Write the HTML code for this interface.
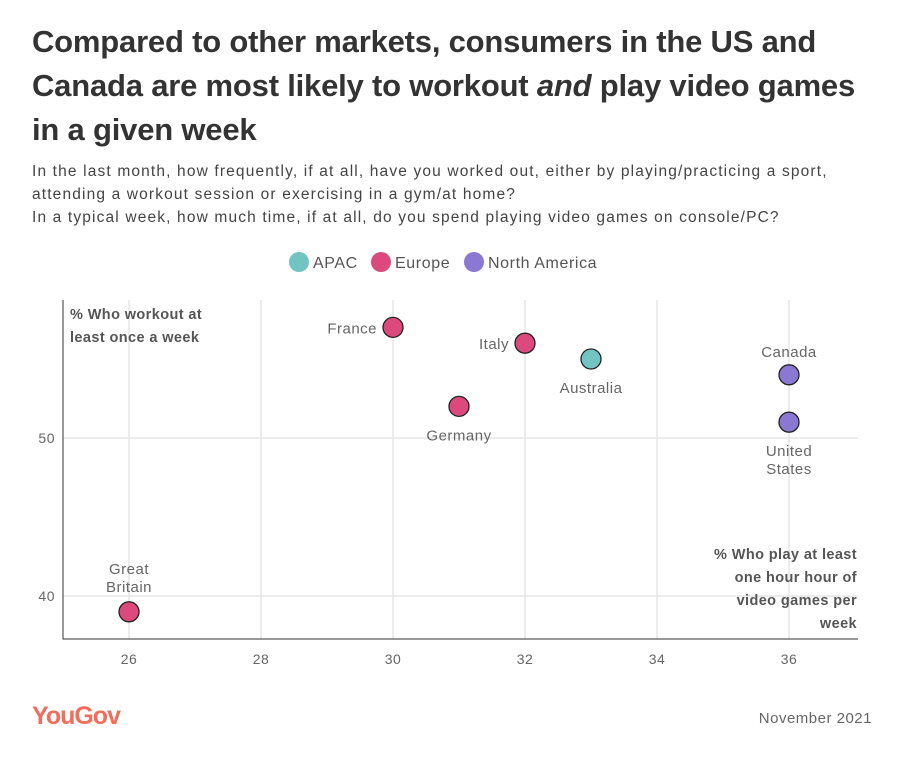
<!DOCTYPE html>
<html><head><meta charset="utf-8"><style>
body{margin:0;background:#fff;width:906px;height:764px;overflow:hidden;font-family:"Liberation Sans",sans-serif;}
#t{position:absolute;left:32px;top:20px;width:850px;font-size:31px;font-weight:bold;color:#333;line-height:44px;letter-spacing:-0.2px}
#s{position:absolute;left:32px;top:160px;width:870px;font-size:15.5px;color:#444;line-height:23px;letter-spacing:1.15px;white-space:nowrap}
</style></head><body>
<div id="t">Compared to other markets, consumers in the US and Canada are most likely to workout <i>and</i> play video games in a given week</div>
<div id="s">In the last month, how frequently, if at all, have you worked out, either by playing/practicing a sport,<br>attending a workout session or exercising in a gym/at home?<br>In a typical week, how much time, if at all, do you spend playing video games on console/PC?</div>
<svg id="c" width="906" height="764" style="position:absolute;left:0;top:0"></svg>
<script>
const names=["France","Italy","Australia","Germany","Canada","United States","Great Britain"];
const xVals=[30,32,33,31,36,36,26];
const yVals=[57,56,55,52,54,51,39];
const regions=["Europe","Europe","APAC","Europe","North America","North America","Europe"];
const xTicks=[26,28,30,32,34,36];
const yTicks=[40,50];
const legendNames=["APAC","Europe","North America"];
const colors={"APAC":"#72c4c2","Europe":"#dc4a7d","North America":"#8a78d3"};
const svg=document.getElementById('c');const NS='http://www.w3.org/2000/svg';
const X=v=>63+(v-25)*66, Y=v=>438-(v-50)*15.8;
function mk(tag,a,txt){const e=document.createElementNS(NS,tag);for(const k in a)e.setAttribute(k,a[k]);if(txt!==undefined)e.textContent=txt;svg.appendChild(e);return e;}
xTicks.forEach(t=>{let l=mk('line',{x1:X(t),x2:X(t),y1:300,y2:639,stroke:'#e6e6e6','stroke-width':1.5});

let e=mk('text',{x:X(t),y:664,'text-anchor':'middle','font-size':14,fill:'#666','letter-spacing':0.5},t);
});
yTicks.forEach(t=>{let l=mk('line',{x1:63,x2:858,y1:Y(t),y2:Y(t),stroke:'#e6e6e6','stroke-width':1.5});

let e=mk('text',{x:55,y:Y(t)+5,'text-anchor':'end','font-size':14,fill:'#666','letter-spacing':0.5},t);
});
let ax=mk('path',{d:'M63 300V639H858',fill:'none',stroke:'#333','stroke-width':1});

let yt=mk('text',{x:70,y:319,'font-size':14.5,'font-weight':'bold',fill:'#555','letter-spacing':0.4});

yt.innerHTML='<tspan x="70">% Who workout at</tspan><tspan x="70" dy="23">least once a week</tspan>';
let xt=mk('text',{x:857,y:559,'font-size':14.5,'font-weight':'bold',fill:'#555','text-anchor':'end','letter-spacing':0.4});

xt.innerHTML='<tspan x="857">% Who play at least</tspan><tspan x="857" dy="23">one hour hour of</tspan><tspan x="857" dy="23">video games per</tspan><tspan x="857" dy="23">week</tspan>';
const lp={"France":[-16,6,'end'],"Italy":[-16,6,'end'],"Australia":[0,34,'middle'],"Germany":[0,34,'middle'],"Canada":[0,-18,'middle'],"United States":[0,34,'middle'],"Great Britain":[0,-38,'middle']};
names.forEach((n,i)=>{const cx=X(xVals[i]),cy=Y(yVals[i]);
let c=mk('circle',{cx:cx,cy:cy,r:10,fill:colors[regions[i]],stroke:'#222','stroke-width':1.3});

const p=lp[n];const words=n.split(' ');
let t=mk('text',{x:cx+p[0],y:cy+p[1],'text-anchor':p[2],'font-size':15,fill:'#666','letter-spacing':0.5});

words.forEach((w,j)=>{let s=document.createElementNS(NS,'tspan');s.setAttribute('x',cx+p[0]);if(j)s.setAttribute('dy',18);s.textContent=w;t.appendChild(s);});});
let lx=[299,381,474];
legendNames.forEach((n,i)=>{let g=mk('circle',{cx:lx[i],cy:262,r:10,fill:colors[n]});

let t=mk('text',{x:lx[i]+14,y:268,'font-size':16,fill:'#555','letter-spacing':0.6},n);
});
let lg=mk('text',{x:32,y:724,'font-size':25,'font-weight':'bold',fill:'#f26d5b','letter-spacing':-1},'YouGov');

let d=mk('text',{x:872,y:723,'font-size':15,fill:'#666','text-anchor':'end','letter-spacing':0.5},'November 2021');

</script>
</body></html>
